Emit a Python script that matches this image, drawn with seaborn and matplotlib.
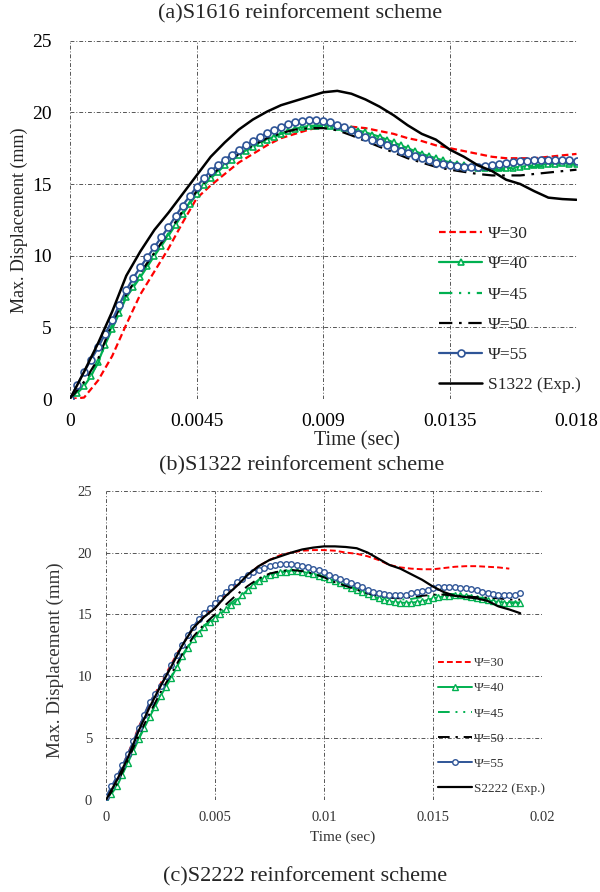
import numpy as np
import matplotlib
matplotlib.use("Agg")
import matplotlib.pyplot as plt
import seaborn as sns

# ---------------- time grids ----------------
t_a = [0, 0.0005, 0.001, 0.0015, 0.002, 0.0025, 0.003, 0.0035, 0.004, 0.0045,
       0.005, 0.0055, 0.006, 0.0065, 0.007, 0.0075, 0.008, 0.0085, 0.009, 0.0095,
       0.010, 0.0105, 0.011, 0.0115, 0.012, 0.0125, 0.013, 0.0135, 0.014, 0.0145,
       0.015, 0.0155, 0.016, 0.0165, 0.017, 0.0175, 0.018]
t_b = t_a + [0.0185, 0.019]
t_b30 = t_b[:-1]
t_b_fine = [0, 0.00025, 0.0005, 0.00075, 0.001, 0.00125, 0.0015, 0.00175, 0.002, 0.00225,
            0.0025, 0.00275, 0.003, 0.00325, 0.0035, 0.00375, 0.004, 0.00425, 0.0045, 0.00475,
            0.005, 0.00525, 0.0055, 0.00575, 0.006, 0.00625, 0.0065, 0.00675, 0.007, 0.00725,
            0.0075, 0.00775, 0.008, 0.00825, 0.0085, 0.00875, 0.009, 0.00925, 0.0095, 0.00975,
            0.010, 0.01025, 0.0105, 0.01075, 0.011, 0.01125, 0.0115, 0.01175, 0.012, 0.01225,
            0.0125, 0.01275, 0.013, 0.01325, 0.0135, 0.01375, 0.014, 0.01425, 0.0145, 0.01475,
            0.015, 0.01525, 0.0155, 0.01575, 0.016, 0.01625, 0.0165, 0.01675, 0.017, 0.01725,
            0.0175, 0.01775, 0.018, 0.01825, 0.0185, 0.01875, 0.019]
t_a_fine = t_b_fine[:73]

# ---------------- data: panel (a) ----------------
a_psi30 = [0, 0.1, 1.3, 3.0, 5.2, 7.3, 8.9, 10.5, 12.3, 14.0,
           14.9, 15.7, 16.5, 17.1, 17.7, 18.2, 18.5, 18.8, 19.0, 19.1,
           19.0, 18.9, 18.7, 18.5, 18.2, 18.0, 17.7, 17.5, 17.3, 17.1,
           16.9, 16.8, 16.8, 16.8, 16.9, 17.0, 17.1]
a_psi40 = [0, 0.4, 0.9, 1.6, 2.6, 3.8, 4.9, 6.0, 7.1, 7.8,
           8.5, 9.25, 10.0, 10.7, 11.4, 12.15, 12.9, 13.6, 14.3, 14.9,
           15.4, 15.85, 16.3, 16.65, 17.0, 17.3, 17.6, 17.85, 18.1, 18.3,
           18.5, 18.7, 18.85, 18.97, 19.05, 19.08, 19.1, 19.06, 19.0, 18.93,
           18.85, 18.73, 18.6, 18.45, 18.3, 18.1, 17.9, 17.7, 17.5, 17.3,
           17.1, 16.95, 16.8, 16.65, 16.5, 16.4, 16.3, 16.22, 16.15, 16.12,
           16.1, 16.1, 16.1, 16.15, 16.2, 16.25, 16.3, 16.35, 16.4, 16.43,
           16.45, 16.43, 16.4]
a_psi45 = [0, 1.0, 2.5, 5.2, 7.2, 8.6, 10.1, 11.5, 13.0, 14.4,
           15.5, 16.35, 17.05, 17.65, 18.15, 18.5, 18.85, 19.0, 19.05, 18.95,
           18.75, 18.45, 18.1, 17.7, 17.3, 16.95, 16.6, 16.35, 16.15, 16.0,
           15.95, 16.0, 16.1, 16.2, 16.3, 16.35, 16.35]
a_psi50 = [0, 1.2, 2.8, 5.3, 7.3, 8.8, 10.2, 11.6, 13.1, 14.5,
           15.6, 16.4, 17.1, 17.7, 18.2, 18.55, 18.8, 18.9, 18.9, 18.75,
           18.4, 18.0, 17.6, 17.2, 16.8, 16.5, 16.2, 16.0, 15.85, 15.7,
           15.6, 15.6, 15.6, 15.7, 15.8, 15.9, 16.0]
a_psi55 = [0.0, 0.95, 1.9, 2.75, 3.6, 4.55, 5.5, 6.55, 7.6, 8.45,
           9.2, 9.9, 10.6, 11.3, 12.0, 12.75, 13.5, 14.15, 14.8, 15.4,
           15.9, 16.3, 16.7, 17.05, 17.4, 17.7, 18.0, 18.3, 18.55, 18.8,
           19.0, 19.2, 19.35, 19.42, 19.45, 19.45, 19.4, 19.3, 19.15, 18.95,
           18.75, 18.52, 18.3, 18.1, 17.9, 17.7, 17.5, 17.32, 17.15, 16.97,
           16.8, 16.65, 16.5, 16.42, 16.35, 16.27, 16.2, 16.18, 16.2, 16.24,
           16.3, 16.4, 16.5, 16.55, 16.6, 16.63, 16.65, 16.68, 16.7, 16.7,
           16.7, 16.65, 16.6]
a_exp = [0, 1.9, 3.9, 6.1, 8.6, 10.3, 11.8, 13.0, 14.3, 15.6,
         16.9, 17.9, 18.8, 19.5, 20.05, 20.5, 20.8, 21.1, 21.4, 21.5,
         21.3, 20.9, 20.4, 19.8, 19.1, 18.5, 18.1, 17.4, 16.9, 16.3,
         15.9, 15.3, 15.0, 14.5, 14.05, 13.95, 13.9]

# ---------------- data: panel (b) ----------------
b_psi30 = [0, 1.8, 3.7, 5.9, 7.8, 9.4, 11.0, 12.6, 13.9, 14.9,
           15.7, 16.6, 17.4, 18.2, 18.9, 19.4, 19.8, 20.0, 20.15, 20.2,
           20.2, 20.15, 20.0, 19.9, 19.7, 19.4, 19.0, 18.8, 18.7, 18.65,
           18.65, 18.75, 18.85, 18.9, 18.9, 18.85, 18.8, 18.7]
b_psi40 = [0, 0.5, 1.1, 2.05, 3.0, 3.95, 4.9, 5.8, 6.7, 7.55,
           8.4, 9.15, 9.9, 10.75, 11.6, 12.3, 13.0, 13.5, 14.0, 14.35,
           14.7, 15.05, 15.4, 15.75, 16.1, 16.55, 17.0, 17.35, 17.7, 17.95,
           18.2, 18.3, 18.4, 18.45, 18.5, 18.48, 18.45, 18.35, 18.25, 18.12,
           18.0, 17.85, 17.7, 17.52, 17.35, 17.17, 17.0, 16.82, 16.65, 16.47,
           16.3, 16.17, 16.05, 16.0, 15.95, 15.94, 15.95, 16.0, 16.05, 16.17,
           16.3, 16.38, 16.45, 16.5, 16.55, 16.53, 16.5, 16.43, 16.35, 16.25,
           16.15, 16.07, 16.0, 15.95, 15.9, 15.9, 15.9]
b_psi45 = [0, 1.2, 3.1, 5.0, 6.8, 8.5, 10.0, 11.7, 13.1, 14.1,
           14.8, 15.6, 16.3, 17.1, 17.8, 18.25, 18.45, 18.55, 18.5, 18.3,
           18.05, 17.75, 17.4, 17.1, 16.8, 16.5, 16.3, 16.2, 16.25, 16.4,
           16.55, 16.65, 16.65, 16.55, 16.4, 16.25, 16.1, 16.0, 15.95]
b_psi50 = [0, 1.3, 3.2, 5.2, 7.0, 8.7, 10.2, 11.8, 13.2, 14.2,
           15.0, 15.8, 16.6, 17.3, 17.9, 18.3, 18.5, 18.6, 18.5, 18.3,
           18.0, 17.6, 17.3, 17.0, 16.7, 16.5, 16.35, 16.3, 16.4, 16.5,
           16.6, 16.6, 16.5, 16.45, 16.4, 16.35, 16.3, 16.2, 16.2]
b_psi55 = [0.25, 1.1, 1.9, 2.8, 3.7, 4.75, 5.8, 6.9, 7.9, 8.55,
           9.2, 10.05, 10.9, 11.7, 12.5, 13.3, 14.0, 14.6, 15.1, 15.5,
           15.9, 16.35, 16.8, 17.2, 17.6, 17.9, 18.2, 18.4, 18.6, 18.75,
           18.9, 19.0, 19.05, 19.07, 19.05, 19.0, 18.95, 18.85, 18.7, 18.55,
           18.4, 18.22, 18.05, 17.87, 17.7, 17.55, 17.4, 17.2, 17.0, 16.85,
           16.7, 16.63, 16.6, 16.57, 16.55, 16.6, 16.7, 16.8, 16.9, 17.0,
           17.1, 17.18, 17.25, 17.24, 17.2, 17.15, 17.1, 17.03, 16.95, 16.85,
           16.75, 16.67, 16.6, 16.56, 16.55, 16.6, 16.7]
b_exp = [0, 1.6, 3.4, 5.6, 7.5, 9.2, 10.8, 12.5, 13.9, 14.8,
         15.5, 16.5, 17.3, 18.2, 18.9, 19.4, 19.7, 20.0, 20.25, 20.4,
         20.5, 20.5, 20.45, 20.35, 20.0, 19.5, 19.0, 18.7, 18.25, 17.8,
         17.25, 16.8, 16.5, 16.4, 16.3, 16.1, 15.65, 15.4, 15.1]

labels = ["\u03a8=30", "\u03a8=40", "\u03a8=45", "\u03a8=50", "\u03a8=55"]
exp_label_a = "S1322 (Exp.)"
exp_label_b = "S2222 (Exp.)"
xticks_a = [0, 0.0045, 0.009, 0.0135, 0.018]
xticklabels_a = ["0", "0.0045", "0.009", "0.0135", "0.018"]
xticks_b = [0, 0.005, 0.01, 0.015, 0.02]
xticklabels_b = ["0", "0.005", "0.01", "0.015", "0.02"]
yticks = [0, 5, 10, 15, 20, 25]

# ---------------- style ----------------
sns.set_style("white")
plt.rcParams["font.family"] = ["Liberation Serif", "DejaVu Serif"]

RED = "#FF0000"
GREEN = "#00B050"
BLUE = "#2F5597"

W, H = 600, 892
fig = plt.figure(figsize=(6.0, 8.92), dpi=100)


def axes_px(l, t, r, b):
    return fig.add_axes([l / W, 1 - b / H, (r - l) / W, (b - t) / H])


ax1 = axes_px(70, 40.7, 576.5, 399)
ax2 = axes_px(106, 490.7, 542, 800)


def draw(ax, t, t30, tf, series, exp, exp_label, ms, lw, mew):
    p30, p40, p45, p50, p55 = series
    sns.lineplot(x=t30, y=p30, ax=ax, color=RED, lw=lw, linestyle=(0, (3.0, 1.6)),
                 label=labels[0], zorder=3)
    sns.lineplot(x=tf, y=p40, ax=ax, color=GREEN, lw=lw, marker="^", ms=ms,
                 mfc="white", mec=GREEN, mew=mew, label=labels[1], zorder=3)
    sns.lineplot(x=t, y=p45, ax=ax, color=GREEN, lw=lw,
                 linestyle=(0, (6, 3, 1, 3, 1, 3)), label=labels[2], zorder=3)
    sns.lineplot(x=t, y=p50, ax=ax, color="black", lw=lw,
                 linestyle=(0, (6, 3, 1.2, 3)), label=labels[3], zorder=3)
    sns.lineplot(x=tf, y=p55, ax=ax, color=BLUE, lw=lw, marker="o", ms=ms,
                 mfc="white", mec=BLUE, mew=mew, label=labels[4], zorder=4)
    sns.lineplot(x=t, y=exp, ax=ax, color="black", lw=lw + 0.2, label=exp_label,
                 zorder=5)


draw(ax1, t_a, t_a, t_a_fine, [a_psi30, a_psi40, a_psi45, a_psi50, a_psi55], a_exp,
     exp_label_a, ms=5.0, lw=1.6, mew=1.2)
draw(ax2, t_b, t_b30, t_b_fine, [b_psi30, b_psi40, b_psi45, b_psi50, b_psi55], b_exp,
     exp_label_b, ms=4.0, lw=1.4, mew=1.0)

for ax, xt, xtl, xmax, fs, col in [(ax1, xticks_a, xticklabels_a, 0.018, 14, "black"),
                                   (ax2, xticks_b, xticklabels_b, 0.02, 10.5, "#333333")]:
    ax.set_xlim(0, xmax)
    ax.set_ylim(0, 25)
    ax.set_xticks(xt)
    ax.set_xticklabels(xtl)
    ax.set_yticks(yticks)
    ax.set_yticklabels([str(v) for v in yticks])
    ax.grid(True, linestyle=(0, (4, 2, 1, 2)), color="#555555", linewidth=0.7)
    for s in ax.spines.values():
        s.set_visible(False)
    ax.tick_params(length=0, labelsize=fs, colors=col)

ax1.tick_params(axis="y", pad=13)
ax1.tick_params(axis="x", pad=10)
ax2.tick_params(axis="y", pad=10)
ax2.tick_params(axis="x", pad=8)

ax1.set_xlabel("Time (sec)", fontsize=14.5)
ax1.xaxis.set_label_coords(0.566, -0.089)
ax1.set_ylabel("Max. Displacement (mm)", fontsize=13)
ax1.yaxis.set_label_coords(-0.083, 0.5)

ax2.set_xlabel("Time (sec)", fontsize=11, color="#333333")
ax2.xaxis.set_label_coords(0.542, -0.1)
ax2.set_ylabel("Max. Displacement (mm)", fontsize=13.7, color="#333333")
ax2.yaxis.set_label_coords(-0.096, 0.453)

leg1 = ax1.legend(loc="upper left", bbox_to_anchor=(439 / W, 1 - 226 / H),
                  bbox_transform=fig.transFigure, frameon=False, fontsize=12.5,
                  handlelength=2.5, handletextpad=0.3, labelspacing=0.81,
                  borderpad=0, borderaxespad=0, numpoints=1)
leg2 = ax2.legend(loc="upper left", bbox_to_anchor=(438 / W, 1 - 657 / H),
                  bbox_transform=fig.transFigure, frameon=False, fontsize=9.5,
                  handlelength=2.6, handletextpad=0.15, labelspacing=0.98,
                  borderpad=0, borderaxespad=0, numpoints=1)
for txt in leg2.get_texts():
    txt.set_color("#333333")

fig.text(0.5, 1 - 14 / H, "(a)S1616 reinforcement scheme", ha="center", va="center",
         fontsize=16)
fig.text(0.502, 1 - 466 / H, "(b)S1322 reinforcement scheme", ha="center", va="center",
         fontsize=16)
fig.text(0.508, 1 - 877 / H, "(c)S2222 reinforcement scheme", ha="center", va="center",
         fontsize=16)

fig.savefig("out.png", dpi=100)
